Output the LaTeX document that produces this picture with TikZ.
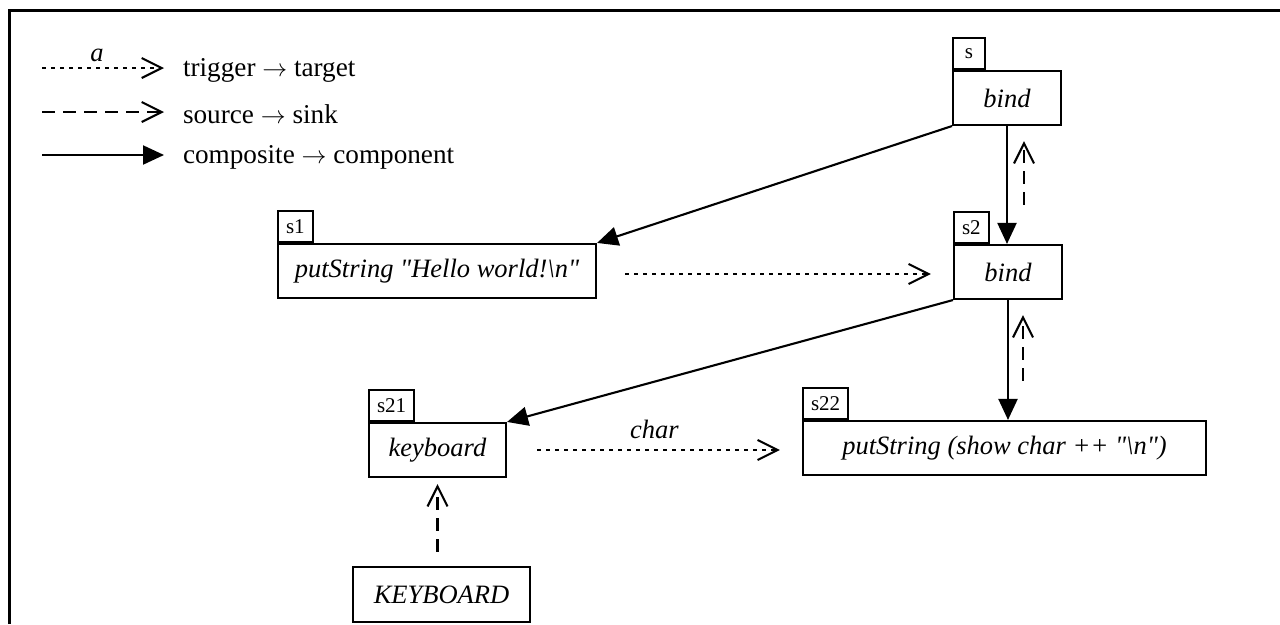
\documentclass[tikz,border=0pt]{standalone}
\usepackage{fontspec}
\setmainfont{Liberation Serif}
\newfontfamily\boxfont{Liberation Serif}
\usetikzlibrary{arrows.meta,calc}
\begin{document}
\begin{tikzpicture}[x=1pt,y=1pt,
  font=\fontsize{27.2}{31}\selectfont,
  every path/.style={line width=2.1pt},
  box/.style={draw, line width=2.1pt, minimum height=54pt, inner sep=0pt, font=\boxfont\fontsize{26.5}{30}\selectfont\itshape},
  tab/.style={draw, line width=2.1pt, minimum height=31pt, minimum width=32pt, inner xsep=8pt, inner ysep=0pt, anchor=south west, font=\fontsize{21}{24}\selectfont},
  comp/.style={-{Triangle[length=21pt,width=19pt]}},
  trig/.style={dash pattern=on 4pt off 5pt, -{Straight Barb[length=20pt,width=20pt,line width=2.1pt]}},
  srcsink/.style={dash pattern=on 13pt off 8pt, -{Straight Barb[length=20pt,width=20pt,line width=2.1pt]}},
  lbl/.style={font=\boxfont\fontsize{26.5}{30}\selectfont\itshape, inner sep=0pt}
]
\useasboundingbox (0,0) rectangle (1280,-624);
% frame
\draw[line width=3pt] (9.5,-624) -- (9.5,-10) -- (1280,-10);
% legend
\coordinate (l1a) at (42,-68); \coordinate (l1b) at (164,-68);
\coordinate (l2a) at (42,-112); \coordinate (l2b) at (164,-112);
\coordinate (l3a) at (42,-155); \coordinate (l3b) at (164,-155);
\draw[trig] (l1a) -- (l1b);
\node[lbl] (la) at (97,-55) {a};
\draw[srcsink] (l2a) -- (l2b);
\draw[comp] (l3a) -- (l3b);
\node[anchor=west, inner sep=0pt] (t1) at (182,-70) {trigger $\rightarrow$ target};
\node[anchor=west, inner sep=0pt] (t2) at (182,-114) {source $\rightarrow$ sink};
\node[anchor=west, inner sep=0pt] (t3) at (182,-157) {composite $\rightarrow$ component};
% boxes
\node[box, minimum width=108pt] (s) at (1007,-98) {bind};
\node[tab] (ts) at (s.north west) {s};
\node[box, minimum width=108pt] (s2) at (1008,-272) {bind};
\node[tab] (ts2) at (s2.north west) {s2};
\node[box, minimum width=318pt] (s1) at (437,-271) {putString "Hello world!\textbackslash n"};
\node[tab] (ts1) at (s1.north west) {s1};
\node[box, minimum width=137pt] (s21) at (437.5,-450) {keyboard};
\node[tab] (ts21) at (s21.north west) {s21};
\node[box, minimum width=403pt] (s22) at (1004.5,-448) {putString (show char ++ "\textbackslash n")};
\node[tab] (ts22) at (s22.north west) {s22};
\node[box, minimum width=177pt, minimum height=55pt] (kb) at (441.5,-594.5) {KEYBOARD};
% composite arrows
\draw[comp] (s.south west) -- (s1.north east);
\draw[comp] (s.south) -- (s.south |- s2.north);
\draw[comp] (s2.south west) -- (s21.north east);
\draw[comp] (s2.south) -- (s2.south |- s22.north);
% source -> sink
\coordinate (d1a) at ($(s2.north)+(16,39)$);
\coordinate (d1b) at ($(s.south)+(16,-15)$);
\draw[srcsink] (d1a) -- (d1b -| d1a);
\coordinate (d2a) at ($(s22.north)+(19,39)$);
\coordinate (d2b) at ($(s2.south)+(15,-15)$);
\draw[srcsink] (d2a -| d2b) -- (d2b);
\draw[srcsink, shorten <=14pt, shorten >=6pt] (kb.north -| s21.south) -- (s21.south);
% trigger -> target
\draw[trig, shorten <=28pt, shorten >=22pt] ([yshift=-3pt]s1.east) -- ([yshift=-3pt]s1.east -| s2.west);
\draw[trig, shorten <=30pt, shorten >=22pt] (s21.east) -- (s21.east -| s22.west)
  node[lbl, midway, above=10pt] (chr) {char};
\end{tikzpicture}
\end{document}
